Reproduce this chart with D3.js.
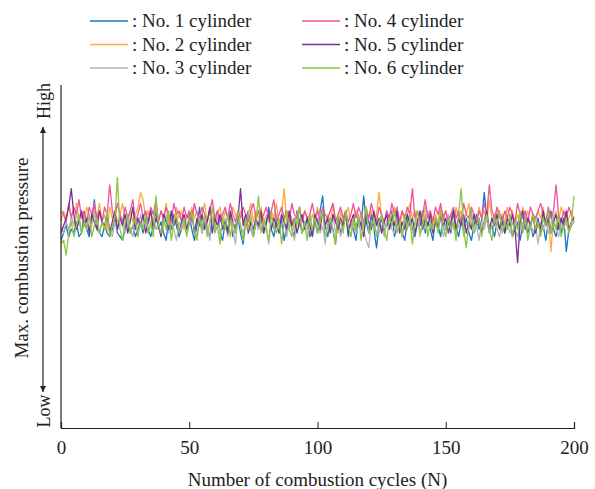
<!DOCTYPE html>
<html>
<head>
<meta charset="utf-8">
<script src="https://cdn.jsdelivr.net/npm/d3@7"></script>
<style>
  body { margin: 0; background: #fff; }
  text { font-family: "Liberation Serif", "Times New Roman", serif; fill: #222; }
</style>
</head>
<body>
<svg id="chart" width="595" height="489"></svg>
<script>
// relative max. combustion pressure per cycle (axis has no numbers, only Low / High)
const cyl1 = [
  55, 57, 59, 56, 58, 57, 60, 56, 57, 62, 58, 56, 60, 66, 58, 57, 56, 59, 57, 56, 58, 61, 57, 56, 55,
  58, 62, 57, 59, 56, 58, 60, 57, 61, 58, 56, 59, 63, 58, 60, 57, 55, 61, 58, 62, 59, 56, 58, 60, 57,
  62, 58, 55, 59, 64, 57, 60, 58, 56, 61, 59, 63, 57, 55, 60, 58, 62, 56, 59, 61, 57, 54, 60, 63, 58,
  56, 60, 58, 62, 57, 59, 64, 58, 56, 60, 57, 61, 55, 59, 62, 58, 56, 63, 60, 57, 59, 61, 56, 58, 60,
  57, 63, 67, 59, 56, 60, 58, 54, 61, 57, 59, 62, 56, 60, 58, 55, 61, 59, 67, 60, 57, 62, 58, 53, 59,
  61, 57, 60, 58, 63, 56, 59, 61, 57, 55, 60, 62, 58, 56, 60, 59, 63, 57, 60, 58, 55, 61, 59, 56, 62,
  58, 60, 57, 63, 59, 56, 60, 58, 61, 57, 55, 59, 62, 58, 60, 68, 61, 57, 59, 56, 60, 58, 62, 57, 59,
  61, 56, 58, 60, 55, 59, 62, 57, 60, 56, 58, 61, 57, 59, 55, 60, 63, 58, 56, 60, 57, 61, 52, 58, 59, 60
]
const cyl2 = [
  60, 63, 61, 64, 62, 59, 65, 61, 63, 60, 64, 62, 59, 63, 61, 65, 60, 62, 58, 64, 61, 63, 60, 62, 65,
  61, 59, 63, 60, 62, 64, 68, 66, 61, 63, 59, 62, 64, 60, 63, 61, 65, 59, 62, 60, 64, 61, 63, 58, 62,
  60, 64, 61, 63, 59, 62, 65, 60, 63, 61, 58, 62, 64, 60, 63, 61, 59, 64, 62, 60, 63, 61, 58, 62, 65,
  60, 63, 61, 64, 59, 62, 60, 63, 61, 65, 59, 62, 69, 60, 63, 61, 58, 62, 64, 60, 63, 61, 59, 62, 60,
  64, 61, 63, 59, 62, 60, 65, 61, 57, 63, 60, 62, 64, 59, 61, 63, 60, 62, 58, 64, 61, 63, 60, 62, 68,
  61, 59, 63, 60, 62, 64, 61, 58, 63, 60, 62, 65, 61, 63, 59, 62, 60, 64, 61, 63, 59, 62, 60, 64, 61,
  63, 60, 62, 58, 64, 61, 63, 60, 62, 65, 59, 62, 60, 64, 61, 63, 60, 66, 61, 59, 63, 61, 62, 60, 64,
  61, 63, 59, 62, 60, 64, 61, 63, 58, 62, 60, 63, 61, 64, 59, 62, 52, 61, 63, 60, 64, 62, 59, 61, 63, 60
]
const cyl3 = [
  59, 57, 60, 58, 61, 59, 62, 60, 57, 59, 61, 58, 60, 62, 59, 57, 60, 58, 61, 59, 56, 60, 58, 62, 59,
  57, 60, 58, 56, 61, 59, 62, 58, 60, 57, 59, 61, 58, 60, 56, 59, 62, 57, 60, 58, 55, 60, 58, 61, 57,
  59, 62, 58, 56, 60, 57, 61, 59, 55, 60, 58, 62, 57, 59, 61, 56, 60, 58, 54, 61, 59, 57, 60, 62, 58,
  56, 60, 58, 61, 57, 59, 54, 60, 58, 62, 57, 59, 61, 56, 60, 58, 55, 61, 59, 57, 60, 58, 62, 56, 59,
  61, 57, 59, 54, 60, 58, 62, 57, 60, 56, 59, 61, 58, 56, 60, 57, 59, 62, 58, 55, 53, 60, 58, 61, 57,
  59, 56, 60, 62, 58, 57, 61, 59, 56, 60, 58, 62, 57, 59, 61, 56, 60, 58, 63, 59, 57, 60, 58, 61, 56,
  59, 62, 58, 60, 57, 59, 61, 56, 60, 58, 62, 57, 59, 55, 60, 58, 61, 57, 59, 62, 58, 56, 60, 59, 61,
  57, 60, 58, 56, 61, 59, 62, 58, 60, 57, 59, 54, 60, 58, 61, 57, 59, 62, 58, 56, 60, 58, 61, 57, 59, 60
]
const cyl4 = [
  63, 62, 60, 65, 61, 64, 62, 66, 61, 63, 60, 64, 62, 65, 61, 63, 60, 64, 62, 70, 63, 61, 65, 62, 60,
  64, 61, 63, 66, 60, 62, 65, 61, 63, 60, 64, 62, 66, 60, 63, 61, 64, 62, 60, 65, 62, 63, 60, 64, 61,
  63, 60, 65, 62, 61, 64, 62, 60, 63, 66, 61, 63, 60, 62, 64, 61, 65, 62, 60, 63, 61, 64, 62, 60, 63,
  65, 61, 63, 60, 62, 64, 61, 63, 66, 60, 62, 64, 61, 63, 60, 65, 62, 61, 64, 60, 63, 61, 62, 65, 61,
  63, 60, 64, 62, 61, 63, 65, 60, 62, 64, 61, 63, 60, 62, 65, 61, 64, 62, 60, 63, 61, 65, 62, 60, 64,
  62, 60, 63, 61, 65, 62, 64, 60, 63, 61, 64, 62, 69, 61, 63, 60, 62, 66, 61, 63, 60, 64, 62, 65, 61,
  63, 60, 62, 64, 61, 63, 60, 65, 62, 61, 64, 62, 60, 63, 61, 65, 62, 70, 63, 61, 64, 62, 60, 63, 61,
  64, 62, 60, 65, 62, 61, 63, 60, 64, 62, 61, 63, 65, 62, 60, 64, 61, 63, 70, 62, 60, 63, 61, 64, 62, 61
]
const cyl5 = [
  57, 59, 61, 64, 69, 62, 58, 60, 63, 59, 61, 57, 62, 60, 58, 63, 60, 59, 62, 57, 60, 63, 58, 61, 59,
  62, 57, 60, 64, 58, 61, 59, 62, 57, 60, 63, 58, 61, 59, 56, 62, 60, 58, 63, 59, 61, 57, 60, 62, 58,
  60, 63, 57, 61, 59, 62, 58, 60, 64, 57, 61, 59, 62, 58, 60, 57, 63, 60, 58, 61, 69, 59, 62, 57, 60,
  58, 61, 59, 63, 57, 60, 62, 58, 61, 59, 57, 62, 60, 58, 63, 59, 61, 57, 60, 62, 58, 61, 59, 56, 62,
  60, 58, 63, 59, 61, 57, 62, 60, 58, 61, 59, 63, 57, 60, 62, 58, 61, 59, 56, 62, 60, 58, 63, 59, 61,
  57, 60, 62, 58, 61, 59, 63, 57, 60, 58, 62, 59, 61, 57, 60, 63, 58, 61, 59, 62, 57, 60, 58, 62, 59,
  61, 57, 60, 63, 58, 61, 59, 62, 57, 60, 58, 62, 59, 61, 57, 60, 63, 58, 61, 59, 62, 58, 60, 57, 61,
  59, 62, 58, 49, 60, 63, 58, 61, 59, 62, 57, 60, 58, 63, 59, 61, 57, 60, 62, 58, 61, 59, 63, 58, 60, 61
]
const cyl6 = [
  54, 55, 51, 57, 60, 56, 59, 62, 57, 60, 58, 62, 56, 59, 61, 57, 60, 58, 63, 56, 59, 61, 72, 58, 55,
  60, 62, 57, 59, 61, 56, 60, 58, 62, 57, 60, 56, 67, 59, 57, 61, 58, 63, 55, 60, 62, 57, 59, 61, 56,
  60, 63, 57, 55, 61, 58, 62, 56, 60, 64, 57, 59, 54, 61, 58, 62, 56, 60, 57, 63, 59, 55, 61, 58, 62,
  56, 60, 67, 57, 61, 58, 55, 62, 59, 57, 61, 54, 60, 63, 58, 56, 61, 59, 64, 57, 60, 55, 62, 58, 61,
  57, 60, 63, 56, 59, 61, 58, 54, 62, 60, 57, 63, 59, 56, 61, 58, 62, 55, 60, 64, 57, 59, 61, 56, 60,
  62, 58, 55, 61, 59, 63, 57, 60, 56, 62, 58, 61, 54, 60, 63, 57, 59, 62, 56, 60, 58, 61, 57, 63, 59,
  56, 61, 58, 60, 55, 62, 69, 58, 53, 60, 63, 57, 59, 61, 56, 60, 62, 58, 55, 61, 59, 63, 57, 60, 58,
  62, 56, 60, 58, 63, 57, 61, 55, 59, 62, 58, 60, 56, 61, 59, 63, 57, 60, 58, 62, 56, 59, 61, 57, 60, 67
]

const seriesNames = ["No. 1 cylinder", "No. 2 cylinder", "No. 3 cylinder",
                     "No. 4 cylinder", "No. 5 cylinder", "No. 6 cylinder"]
const seriesData = [cyl1, cyl2, cyl3, cyl4, cyl5, cyl6]
const seriesColors = ["#1675c6", "#fbad3c", "#b4b4b4", "#f0529c", "#7a2f9b", "#8dc641"]
const xTicks = [0, 50, 100, 150, 200]

const svg = d3.select("#chart")
const margin = { left: 61, right: 21, top: 85, bottom: 61 }
const width = 595, height = 489

const x = d3.scaleLinear().domain([0, 200]).range([margin.left, width - margin.right])
// no numbers on this axis, the domain only sets where the band sits between Low and High
const y = d3.scaleLinear().domain([4.3, 97]).range([height - margin.bottom, margin.top])

// lines
const line = d3.line()
  .x((d, i) => x(i))
  .y((d) => y(d))

svg.append("g")
  .selectAll("path")
  .data(seriesData)
  .join("path")
  .attr("d", line)
  .attr("fill", "none")
  .attr("stroke", (d, i) => seriesColors[i])
  .attr("stroke-width", 1.3)
  .attr("stroke-linejoin", "round")

// x axis
const xAxis = svg.append("g")
  .attr("transform", `translate(0,${height - margin.bottom})`)
  .call(d3.axisBottom(x).tickValues(xTicks).tickSize(-6).tickPadding(13))
xAxis.select(".domain").attr("stroke", "#222").attr("stroke-width", 1.2)
xAxis.selectAll(".tick line").attr("stroke", "#222")
xAxis.selectAll(".tick text")
  .attr("font-size", 19)
  .attr("font-family", "Liberation Serif, serif")
  .attr("fill", "#222")

// y axis (plain line)
svg.append("line")
  .attr("x1", margin.left).attr("x2", margin.left)
  .attr("y1", margin.top).attr("y2", height - margin.bottom)
  .attr("stroke", "#222").attr("stroke-width", 1.2)

svg.append("text")
  .attr("x", x(100))
  .attr("y", 486)
  .attr("text-anchor", "middle")
  .attr("font-size", 19)
  .text("Number of combustion cycles (N)")

// y title with arrow
svg.append("text")
  .attr("transform", "translate(28,258) rotate(-90)")
  .attr("text-anchor", "middle")
  .attr("font-size", 19)
  .text("Max. combustion pressure")

svg.append("text")
  .attr("transform", "translate(50,101) rotate(-90)")
  .attr("text-anchor", "middle")
  .attr("font-size", 18)
  .text("High")

svg.append("text")
  .attr("transform", "translate(50,411) rotate(-90)")
  .attr("text-anchor", "middle")
  .attr("font-size", 18)
  .text("Low")

const defs = svg.append("defs")
defs.append("marker")
  .attr("id", "arrow")
  .attr("viewBox", "0 0 10 10")
  .attr("refX", 10).attr("refY", 5)
  .attr("markerWidth", 10).attr("markerHeight", 6)
  .attr("markerUnits", "userSpaceOnUse")
  .attr("orient", "auto-start-reverse")
  .append("path")
  .attr("d", "M0,0L10,5L0,10Z")
  .attr("fill", "#222")

svg.append("line")
  .attr("x1", 43).attr("x2", 43)
  .attr("y1", 127).attr("y2", 392)
  .attr("stroke", "#222").attr("stroke-width", 1.2)
  .attr("marker-start", "url(#arrow)")
  .attr("marker-end", "url(#arrow)")

// legend
const legend = svg.append("g")
  .selectAll("g")
  .data(seriesNames)
  .join("g")
  .attr("transform", (d, i) => `translate(${i < 3 ? 90 : 302},${21 + (i % 3) * 23.5})`)

legend.append("line")
  .attr("x1", 0).attr("x2", 38)
  .attr("stroke", (d, i) => seriesColors[i])
  .attr("stroke-width", 1.5)

legend.append("text")
  .attr("x", 42)
  .attr("y", 6)
  .attr("font-size", 19)
  .text((d) => ": " + d)
</script>
</body>
</html>
